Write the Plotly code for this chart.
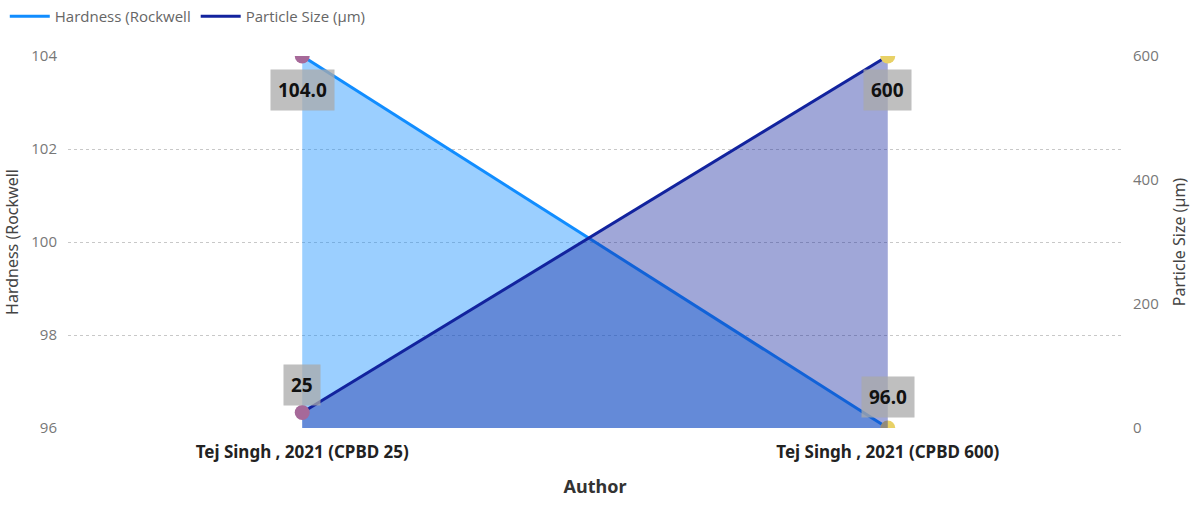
import plotly.graph_objects as go

authors = ["Tej Singh , 2021 (CPBD 25)", "Tej Singh , 2021 (CPBD 600)"]
hardness = [104.0, 96.0]
particle_size = [25, 600]
hardness_labels = ["104.0", "96.0"]
size_labels = ["25", "600"]
marker_colors = ["#A66999", "#E8D166"]

HARD_COLOR = "#118DFF"
SIZE_COLOR = "#12239E"

x_idx = list(range(len(authors)))

fig = go.Figure()

fig.add_trace(go.Scatter(
    x=x_idx, y=hardness, name="Hardness (Rockwell",
    mode="lines+markers", fill="tozeroy",
    fillcolor="rgba(17,141,255,0.42)",
    line=dict(color=HARD_COLOR, width=3),
    marker=dict(size=15, color=marker_colors),
    cliponaxis=True, yaxis="y", showlegend=False,
))
fig.add_trace(go.Scatter(
    x=x_idx, y=particle_size, name="Particle Size (µm)",
    mode="lines+markers", fill="tozeroy",
    fillcolor="rgba(18,35,158,0.40)",
    line=dict(color=SIZE_COLOR, width=3),
    marker=dict(size=15, color=marker_colors),
    cliponaxis=True, yaxis="y2", showlegend=False,
))

# line-only legend entries
fig.add_trace(go.Scatter(x=[None], y=[None], mode="lines", name="Hardness (Rockwell",
                         line=dict(color=HARD_COLOR, width=3)))
fig.add_trace(go.Scatter(x=[None], y=[None], mode="lines", name="Particle Size (µm)",
                         line=dict(color=SIZE_COLOR, width=3)))

annotations = []
label_font = dict(family="Noto Sans", size=19, color="#111111")
for i, v in enumerate(hardness):
    annotations.append(dict(
        x=i, y=v, xref="x", yref="y", text="<b>%s</b>" % hardness_labels[i],
        showarrow=False, font=label_font, bgcolor="rgba(170,170,170,0.75)",
        borderpad=7, yshift=-34 if i == 0 else 31,
    ))
for i, v in enumerate(particle_size):
    annotations.append(dict(
        x=i, y=v, xref="x", yref="y2", text="<b>%s</b>" % size_labels[i],
        showarrow=False, font=label_font, bgcolor="rgba(170,170,170,0.75)",
        borderpad=7, yshift=28 if i == 0 else -34,
    ))

fig.update_layout(
    width=1194, height=506,
    margin=dict(l=68, r=72, t=56, b=78, autoexpand=False),
    plot_bgcolor="white", paper_bgcolor="white",
    showlegend=True,
    legend=dict(orientation="h", x=0.004, y=1.0, xref="container", yref="container",
                xanchor="left", yanchor="top",
                font=dict(family="Open Sans", size=15, color="#666666"),
                itemwidth=40, tracegroupgap=0),
    xaxis=dict(
        range=[-0.4, 1.4], tickmode="array", tickvals=x_idx,
        ticktext=["<b>%s</b>" % a for a in authors],
        tickfont=dict(family="Noto Sans", size=17, color="#222222"),
        showgrid=False, zeroline=False, showline=False, ticks="",
        ticklabelstandoff=12,
        title=dict(text="<b>Author</b>", font=dict(family="Noto Sans", size=18, color="#333333"),
                   standoff=18),
    ),
    yaxis=dict(
        range=[96, 104], tickvals=[96, 98, 100, 102, 104],
        tickfont=dict(family="Open Sans", size=15, color="#777777"),
        showgrid=True, gridcolor="#C8C8C8", griddash="dot", gridwidth=1,
        zeroline=False, showline=False, ticks="", ticklabelstandoff=10,
        title=dict(text="Hardness (Rockwell", font=dict(family="Noto Sans", size=16, color="#444444"),
                   standoff=8),
    ),
    yaxis2=dict(
        range=[0, 600], tickvals=[0, 200, 400, 600], overlaying="y", side="right",
        tickfont=dict(family="Open Sans", size=15, color="#777777"),
        showgrid=False, zeroline=False, showline=False, ticks="", ticklabelstandoff=10,
        title=dict(text="Particle Size (µm)", font=dict(family="Noto Sans", size=16, color="#444444"),
                   standoff=16),
    ),
    annotations=annotations,
)

fig.write_html("out.html")
